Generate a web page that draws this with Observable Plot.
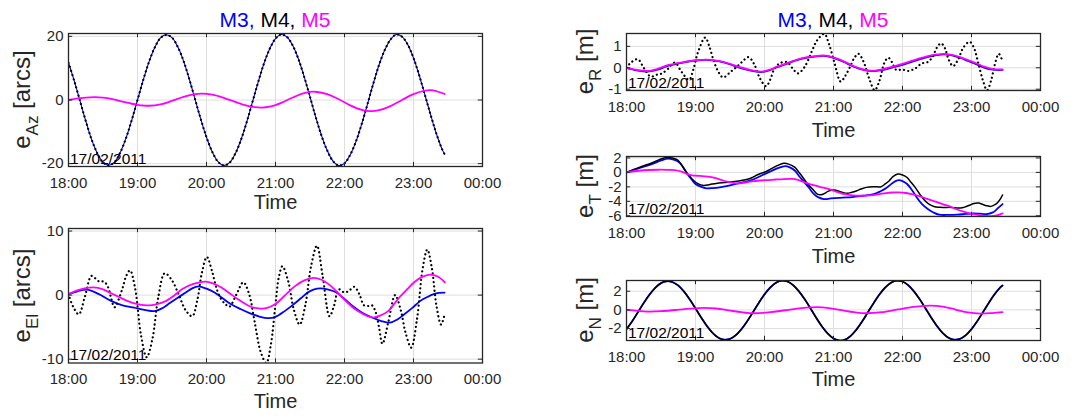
<!DOCTYPE html>
<html><head><meta charset="utf-8">
<script src="https://cdn.jsdelivr.net/npm/d3@7"></script>
<script src="https://cdn.jsdelivr.net/npm/@observablehq/plot@0.6"></script>
<style>
body{margin:0;background:#fff;}
#root{position:relative;width:1080px;height:418px;overflow:hidden;font-family:"Liberation Sans",Arial,sans-serif;}
</style></head><body><div id="root"></div>
<script>
// ---------- shared labels ----------
const timeTicks = [0, 60, 120, 180, 240, 300, 360];          // minutes after 18:00
const timeLabels = ["18:00", "19:00", "20:00", "21:00", "22:00", "23:00", "00:00"];
const dateLabel = "17/02/2011";
const titleParts = ["M3, ", "M4, ", "M5"];
const seriesColors = ["#0000ff", "#000000", "#ff00ff"];

// ---------- Azimuth error [arcs] : [minute, value] ----------
const azM4 = [[0,11.7],[5,6.0],[10,-0.3],[15,-6.6],[20,-12.3],[25,-16.7],[30,-19.6],[35,-20.5],[40,-19.5],[45,-16.5],[50,-12.0],[55,-6.3],[60,0],[65,6.3],[70,12.0],[75,16.5],[80,19.5],[85,20.5],[90,19.6],[95,16.7],[100,12.3],[105,6.6],[110,0.3],[115,-6.0],[120,-11.7],[125,-16.3],[130,-19.4],[135,-20.6],[140,-19.7],[145,-16.9],[150,-12.5],[155,-6.9],[160,-0.6],[165,5.7],[170,11.5],[175,16.1],[180,19.3],[185,20.6],[190,19.8],[195,17.1],[200,12.8],[205,7.2],[210,1.0],[215,-5.4],[220,-11.2],[225,-15.9],[230,-19.2],[235,-20.6],[240,-19.9],[245,-17.2],[250,-13.0],[255,-7.5],[260,-1.3],[265,5.1],[270,11.0],[275,15.7],[280,19.0],[285,20.6],[290,19.9],[295,17.4],[300,13.2],[305,7.7],[310,1.5],[315,-4.8],[320,-10.7],[325,-15.6],[327,-17.0]];
const azM3 = azM4.map(d => d.slice());
const azM5 = [[0,0],[5,0.3],[10,0.57],[15,0.77],[23,0.9],[30,0.75],[35,0.49],[40,0.12],[45,-0.32],[50,-0.76],[55,-1.18],[60,-1.51],[65,-1.73],[70,-1.8],[80,-1.37],[90,-0.28],[100,0.97],[110,1.84],[116,2.0],[125,1.68],[135,0.7],[145,-0.6],[155,-1.76],[162,-2.25],[168,-2.4],[175,-2.12],[185,-0.9],[195,0.78],[205,2.14],[214,2.6],[225,1.87],[235,0.23],[245,-1.68],[255,-3.11],[263,-3.5],[270,-3.21],[280,-1.91],[290,0.0],[300,1.84],[310,2.95],[315,3.1],[320,2.75],[327,1.9]];

// ---------- Elevation error [arcs] ----------
const elM3 = [[0,0.15],[8,0.6],[16,0.85],[26,0.2],[37,-0.9],[47,-1.6],[57,-1.95],[66,-2.3],[75,-2.5],[82,-2.0],[88,-1.25],[95,-0.4],[102,0.4],[108,1.1],[113,1.35],[120,1.0],[127,0.4],[134,-0.5],[141,-1.4],[150,-2.2],[158,-2.85],[166,-3.35],[174,-3.6],[180,-3.4],[188,-2.5],[196,-1.4],[202,-0.5],[208,0.4],[213,0.85],[219,1.05],[226,0.85],[233,0.4],[240,-0.6],[247,-1.7],[255,-2.7],[264,-3.5],[272,-4.05],[279.5,-4.3],[286,-3.8],[292,-3.0],[299,-2.0],[306,-0.9],[312,-0.3],[317.5,0.15],[322,0.35],[327,0.4]];
const elM4 = [[0,0.2],[4,-1.8],[9,-3.0],[14,-0.4],[20,3.0],[24,2.5],[27,2.1],[31,2.1],[34.5,1.2],[37,-0.4],[40,-1.9],[46.5,0.8],[50,2.9],[53.5,3.85],[58,1.0],[63,-6.2],[68,-9.7],[73,-6.8],[78,-0.4],[83.7,3.4],[90,2.3],[96,0.0],[102,-2.4],[107.6,-3.3],[112,-0.8],[116,3.5],[120.3,5.95],[125,3.6],[129,0.9],[133,-0.7],[137,-1.5],[140,-1.8],[146,0.1],[152,2.0],[157,0.2],[162,-4.3],[167,-8.8],[172,-10.6],[176,-7.7],[180,-1.4],[183,2.9],[186,4.5],[191,2.2],[196,-2.3],[201,-4.6],[206,-1.5],[211,4.6],[216,7.7],[221,3.0],[227,-3.3],[231,-1.6],[235,0.9],[240,0.4],[244,0.7],[248.5,1.3],[253,0.1],[257,-1.6],[261,-1.7],[264,-1.6],[267,-2.6],[270,-5.0],[273,-7.6],[278,-4.3],[284,0.0],[289,-2.4],[293,-5.8],[298,-8.2],[303,-3.8],[308,4.2],[312,7.1],[316,4.2],[320,-1.7],[324,-4.6],[327,-3.0]];
const elM5 = [[0,0.15],[7,0.7],[14,1.05],[21.7,1.2],[30,0.9],[37,0.3],[44,-0.3],[51,-0.9],[60,-1.4],[69.6,-1.6],[77,-1.4],[85,-0.9],[92,-0.05],[99,0.95],[108,1.7],[119,2.1],[126,1.8],[133,1.2],[140,0.3],[147,-0.6],[154,-1.4],[160,-1.9],[167,-2.1],[172,-2.05],[180,-1.4],[185,-0.6],[190.7,0.4],[197,1.4],[205,2.3],[213,2.7],[220,2.4],[227,1.6],[234,0.4],[241,-0.9],[247,-1.9],[252.7,-2.6],[259,-3.2],[265,-3.5],[271,-3.2],[278,-2.5],[283,-1.4],[289,-0.1],[295,1.0],[300.6,2.0],[307,2.8],[314.7,3.2],[321,2.9],[327.3,2.0]];

// ---------- Radial error [m] ----------
const rM3 = [[0,0.0],[9,-0.12],[18,-0.18],[27,-0.09],[36,0.09],[50,0.25],[60,0.34],[70,0.37],[80,0.31],[89,0.18],[98,0.01],[106,-0.11],[117,-0.2],[124,-0.12],[131,0.03],[138,0.16],[145,0.3],[153,0.43],[162,0.51],[173,0.55],[180.6,0.45],[189,0.27],[197.5,0.05],[206,-0.1],[214.4,-0.16],[222,-0.11],[231,0.01],[240,0.14],[248,0.28],[257,0.43],[265,0.55],[276,0.63],[283,0.58],[290,0.47],[297,0.32],[304.5,0.16],[311,0.01],[318.6,-0.09],[327,-0.1]];
const rM4 = [[0,0.0],[4,0.25],[9.8,0.4],[15,0.0],[21,-0.41],[26,-0.33],[31,-0.26],[36,-0.05],[42,0.24],[48,-0.2],[54.4,-0.56],[58,-0.1],[62,0.7],[68.4,1.41],[72,1.0],[76,0.3],[80,-0.2],[84,-0.45],[90.7,-0.18],[96,0.05],[100.4,0.27],[106,0.5],[111,0.17],[116,-0.49],[121.4,-0.86],[125,-0.55],[128.3,-0.08],[133,0.2],[139.5,0.27],[144,0.0],[149,-0.26],[155,0.05],[161,0.75],[166,1.3],[172,1.58],[176,1.12],[181,0.2],[186.2,-0.64],[190,-0.4],[194,0.0],[198,0.45],[201.7,0.65],[206,0.3],[211,-0.5],[215.8,-1.05],[220,-0.6],[224,0.2],[227.6,0.47],[231,0.25],[234.6,-0.1],[239.7,-0.08],[245,-0.15],[251,-0.03],[256.6,0.2],[262,0.27],[266,0.5],[270,0.95],[273.5,1.14],[277,0.9],[280,0.4],[284,0.08],[288,0.35],[293,0.95],[298.3,1.21],[302,0.95],[306,0.2],[310,-0.6],[313.5,-1.05],[317,-0.6],[320,0.1],[323.7,0.65],[326.2,0.42]];
const rM5 = [[0,0.0],[9,-0.1],[18,-0.15],[27,-0.05],[36,0.12],[50,0.27],[60,0.35],[70,0.38],[80,0.32],[89,0.2],[98,0.04],[106,-0.08],[117,-0.18],[124,-0.1],[131,0.05],[138,0.18],[145,0.32],[153,0.45],[162,0.53],[173,0.57],[180.6,0.47],[189,0.3],[197.5,0.08],[206,-0.08],[214.4,-0.14],[222,-0.08],[231,0.05],[240,0.18],[248,0.32],[257,0.47],[265,0.58],[276,0.65],[283,0.6],[290,0.5],[297,0.36],[304.5,0.2],[311,0.05],[318.6,-0.06],[327,-0.08]];

// ---------- Along-track error [m] ----------
const tM3 = [[0,0],[11,0.6],[22,1.15],[30,1.65],[36.3,1.9],[41,1.75],[46,1.38],[49.5,0.65],[53,-0.23],[56.5,-0.95],[60,-1.6],[65,-2.0],[69.8,-2.2],[75,-2.17],[81,-2.07],[88,-1.85],[95,-1.6],[102,-1.35],[108.8,-1.06],[114,-0.7],[120,-0.23],[126,0.2],[131,0.55],[138,0.88],[142,0.7],[146.5,0.23],[150.5,-0.6],[154.8,-1.38],[159,-2.2],[163,-3.0],[167,-3.45],[171.6,-3.69],[177.7,-3.6],[185,-3.52],[191.8,-3.46],[199,-3.35],[206,-3.23],[212,-3.1],[217,-2.9],[221,-2.6],[225.6,-2.2],[231,-1.52],[234,-1.2],[237,-1.06],[240,-1.2],[244,-1.6],[248,-2.4],[252.4,-3.46],[257,-4.4],[262,-5.07],[267,-5.55],[272,-5.85],[280,-5.88],[287.6,-5.85],[295,-5.75],[301.7,-5.67],[307,-5.7],[313,-5.76],[318.6,-5.53],[321,-5.25],[323.7,-4.84],[327,-4.38]];
const tM4 = [[0,0],[11,0.7],[22,1.3],[29,1.8],[35,2.07],[40,2.0],[44.6,1.7],[48,1.0],[51.6,0.14],[55,-0.55],[58.6,-1.15],[62,-1.55],[67,-1.8],[72,-1.7],[78,-1.52],[85,-1.4],[92,-1.3],[99,-1.15],[106,-0.92],[110,-0.65],[114,-0.32],[122.8,0.23],[130,0.85],[136.7,1.25],[141,1.15],[146.5,0.7],[150,0.0],[153.4,-0.7],[157,-1.5],[161.8,-2.3],[166,-3.0],[169.3,-3.09],[173,-2.85],[175,-2.63],[180.6,-2.44],[186,-2.67],[191.8,-2.9],[196,-2.75],[200.3,-2.53],[204,-2.3],[208.7,-2.07],[214.4,-1.98],[218,-2.0],[221.4,-1.98],[225,-1.6],[228.5,-1.15],[232,-0.55],[236,-0.23],[240,-0.35],[244,-0.7],[247,-1.3],[251,-2.07],[255,-3.0],[259.4,-3.9],[263,-4.4],[268,-4.75],[272,-4.82],[276.3,-4.84],[282,-4.84],[286,-4.9],[290.4,-4.93],[294,-4.8],[298.9,-4.5],[302,-4.3],[306,-4.24],[310,-4.45],[313,-4.6],[317,-4.7],[320,-4.5],[322.8,-4.15],[325,-3.7],[327,-3.13]];
const tM5 = [[0,0],[11,0.23],[20,0.33],[28,0.37],[35,0.36],[41.9,0.32],[48,0.1],[53,-0.23],[57,-0.4],[61.4,-0.46],[68,-0.55],[75,-0.7],[81,-0.95],[86.5,-1.24],[92,-1.42],[97.7,-1.52],[103,-1.4],[108.8,-1.24],[116,-1.12],[122.8,-1.06],[130,-0.98],[136.7,-0.92],[142,-0.9],[146.5,-0.92],[150.5,-1.1],[154.8,-1.38],[160,-1.65],[164.6,-1.84],[169.3,-2.07],[173,-2.17],[177.7,-2.4],[182,-2.65],[186,-2.86],[190,-3.02],[194.6,-3.13],[203,-3.23],[208,-3.2],[214.4,-3.13],[220,-3.0],[225.6,-2.86],[231,-2.78],[237,-2.76],[243,-2.85],[248,-3.0],[254,-3.25],[259.4,-3.55],[265,-3.85],[270.7,-4.15],[276,-4.45],[282,-4.75],[287,-5.1],[293,-5.44],[299,-5.7],[304.5,-5.85],[310,-5.98],[315.8,-6.05],[319,-6.02],[322.8,-5.9],[325,-5.8],[327,-5.67]];

// ---------- Cross-track error [m] ----------
const nM4 = [[0,-2.06],[5,-1.21],[10,-0.24],[15,0.75],[20,1.64],[25,2.37],[30,2.87],[35,3.07],[40,2.98],[45,2.61],[50,1.96],[55,1.12],[60,0.16],[65,-0.83],[70,-1.74],[75,-2.48],[80,-2.99],[85,-3.19],[90,-3.11],[95,-2.72],[100,-2.06],[105,-1.21],[110,-0.24],[115,0.75],[120,1.66],[125,2.4],[130,2.91],[135,3.13],[140,3.04],[145,2.64],[150,1.98],[155,1.13],[160,0.16],[165,-0.85],[170,-1.78],[175,-2.54],[180,-3.06],[185,-3.28],[190,-3.19],[195,-2.78],[200,-2.1],[205,-1.23],[210,-0.24],[215,0.75],[220,1.66],[225,2.4],[230,2.91],[235,3.13],[240,3.04],[245,2.64],[250,1.98],[255,1.13],[260,0.16],[265,-0.83],[270,-1.74],[275,-2.48],[280,-2.99],[285,-3.19],[290,-3.11],[295,-2.72],[300,-2.06],[305,-1.21],[310,-0.24],[315,0.75],[320,1.66],[325,2.4],[327,2.62]];
const nM3 = nM4.map(d => d.slice());
const nM5 = [[0,0],[10,-0.1],[21,-0.18],[32,-0.12],[44,0.0],[55,0.13],[67,0.21],[78,0.15],[89,-0.05],[100,-0.25],[111,-0.36],[125,-0.25],[138,-0.04],[152,0.18],[166,0.29],[176,0.2],[187,-0.03],[198,-0.25],[208,-0.36],[222,-0.25],[236,0.05],[250,0.32],[264.5,0.46],[275,0.35],[286,0.04],[297,-0.27],[308,-0.39],[318,-0.34],[327,-0.25]];

// ---------- drawing ----------
const root = document.getElementById("root");
const axisColor = "#262626";
const gridColor = "#dedede";
const FONT = "'Liberation Sans', Arial, Helvetica, sans-serif";

function addPanel(p) {
  const ML = 45, MR = 40, MT = 5, MB = 52;
  const [fx, fy, fw, fh] = p.frame;
  const rows = arr => arr.map(([t, v]) => ({t, v}));
  const m4Opts = p.dotted
    ? {strokeDasharray: "0.1 4.2", strokeLinecap: "round", strokeWidth: 2.2}
    : {strokeWidth: 1.5};
  const inner = timeTicks.slice(1, -1);
  const chart = Plot.plot({
    width: fw + ML + MR, height: fh + MT + MB,
    marginLeft: ML, marginRight: MR, marginTop: MT, marginBottom: MB,
    style: `font: 15px ${FONT}; color: ${axisColor}; background: none; overflow: visible;`,
    x: {domain: [0, 360]},
    y: {domain: p.yDomain},
    marks: [
      Plot.ruleX(inner, {x: d => d, stroke: gridColor}),
      Plot.ruleY(p.yTicks, {y: d => d, stroke: gridColor}),
      Plot.line(rows(p.m3), {x: "t", y: "v", stroke: seriesColors[0], strokeWidth: p.m3Width, curve: "catmull-rom", clip: true}),
      Plot.line(rows(p.m4), {x: "t", y: "v", stroke: seriesColors[1], curve: "catmull-rom", clip: true, ...m4Opts}),
      Plot.line(rows(p.m5), {x: "t", y: "v", stroke: seriesColors[2], strokeWidth: 1.8, curve: "catmull-rom", clip: true}),
      Plot.tickX(inner, {x: d => d, insetTop: fh - 4.2, stroke: axisColor}),
      Plot.tickX(inner, {x: d => d, insetBottom: fh - 4.2, stroke: axisColor}),
      Plot.tickY(p.yTicks, {y: d => d, insetRight: fw - 4.2, stroke: axisColor}),
      Plot.tickY(p.yTicks, {y: d => d, insetLeft: fw - 4.2, stroke: axisColor}),
      Plot.text([dateLabel], {frameAnchor: "bottom-left", text: d => d, dx: 1.5, dy: -3, lineAnchor: "bottom", textAnchor: "start", fontSize: 15.5, fill: "#000"}),
      Plot.frame({stroke: axisColor, strokeWidth: 1.3}),
      Plot.axisX({ticks: timeTicks, tickSize: 0, tickPadding: 10.5, tickFormat: d => timeLabels[timeTicks.indexOf(d)], label: null}),
      Plot.axisY({ticks: p.yTicks, tickSize: 0, tickPadding: 5, tickFormat: d => String(d), label: null}),
      Plot.text(["Time"], {frameAnchor: "bottom", text: d => d, dy: p.timeDy, lineAnchor: "bottom", fontSize: 20, fill: axisColor})
    ]
  });
  chart.style.position = "absolute";
  chart.style.left = (fx - ML) + "px";
  chart.style.top = (fy - MT) + "px";
  root.appendChild(chart);
}

addPanel({frame: [68, 33, 414, 133], yDomain: [-20.9, 20.9], yTicks: [-20, 0, 20], m3: azM3, m4: azM4, m5: azM5, dotted: true, m3Width: 1.1, timeDy: 42});
addPanel({frame: [68, 228, 414, 134.5], yDomain: [-10.6, 10.4], yTicks: [-10, 0, 10], m3: elM3, m4: elM4, m5: elM5, dotted: true, m3Width: 1.8, timeDy: 45});
addPanel({frame: [626, 33, 414, 57], yDomain: [-1.06, 1.6], yTicks: [-1, 0, 1], m3: rM3, m4: rM4, m5: rM5, dotted: true, m3Width: 1.8, timeDy: 46});
addPanel({frame: [626, 156, 414, 60], yDomain: [-6.1, 2.2], yTicks: [-6, -4, -2, 0, 2], m3: tM3, m4: tM4, m5: tM5, dotted: false, m3Width: 1.8, timeDy: 46});
addPanel({frame: [626, 280, 414, 60], yDomain: [-3.28, 3.15], yTicks: [-2, 0, 2], m3: nM3, m4: nM4, m5: nM5, dotted: false, m3Width: 1.8, timeDy: 45});

// ---------- titles and y labels ----------
const overlay = d3.select(root).append("svg")
  .attr("width", 1080).attr("height", 418)
  .style("position", "absolute").style("left", "0px").style("top", "0px")
  .style("font-family", FONT);

for (const cx of [275, 833]) {
  const t = overlay.append("text").attr("x", cx).attr("y", 26.5)
    .attr("text-anchor", "middle").attr("font-size", 21);
  titleParts.forEach((s, i) => t.append("tspan").attr("fill", seriesColors[i]).text(s));
}

const yLabels = [
  {sub: "Az", unit: " [arcs]", x: 30, y: 99.5},
  {sub: "El", unit: " [arcs]", x: 30, y: 295.5},
  {sub: "R", unit: " [m]", x: 593, y: 61.5},
  {sub: "T", unit: " [m]", x: 593, y: 186},
  {sub: "N", unit: " [m]", x: 593, y: 310}
];
for (const l of yLabels) {
  const t = overlay.append("text")
    .attr("transform", `translate(${l.x},${l.y}) rotate(-90)`)
    .attr("text-anchor", "middle").attr("font-size", 24).attr("fill", axisColor);
  t.append("tspan").text("e");
  t.append("tspan").attr("font-size", 17).attr("dy", 8).text(l.sub);
  t.append("tspan").attr("dy", -8).text(l.unit);
}
</script>
</body></html>
